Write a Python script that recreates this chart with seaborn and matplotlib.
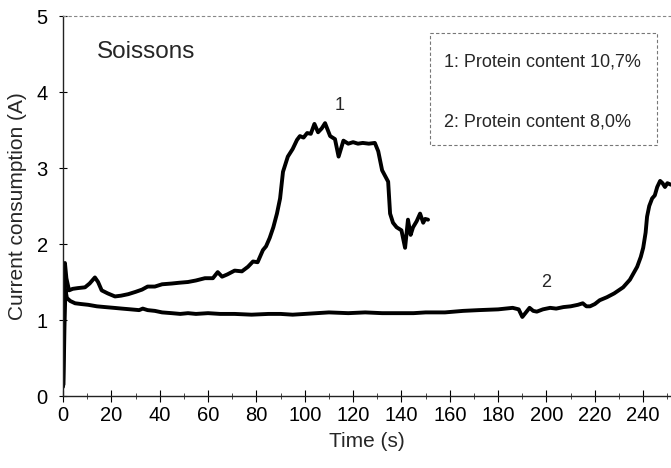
import numpy as np
import pandas as pd
import matplotlib
matplotlib.use("Agg")
import matplotlib.pyplot as plt
import seaborn as sns
from matplotlib.ticker import MultipleLocator

# ---- data ----
t1 = [0.0, 0.4, 0.8, 1.4, 2.5, 4.0, 6.2, 9.1, 11.0, 13.2, 14.5, 16.0, 18.5, 21.5, 24.0, 27.0,
      30.0, 32.7, 35.0, 38.0, 41.0, 45.0, 48.0, 51.7, 55.0, 58.7, 62.0, 64.0, 65.8, 68.0, 71.0,
      74.0, 76.5, 78.6, 80.5, 82.7, 84.0, 85.5, 87.0, 88.5, 89.8, 91.0, 93.0, 95.0, 96.8, 98.0,
      99.5, 101.0, 102.5, 104.0, 105.5, 107.0, 108.4, 110.5, 112.5, 114.0, 116.0, 118.0, 120.0,
      122.0, 124.0, 126.5, 129.0, 130.4, 132.0, 134.5, 135.3, 136.5, 138.0, 140.0, 141.5,
      142.7, 143.8, 144.8, 146.3, 147.7, 149.0, 149.8, 151.0]
y1 = [0.12, 1.10, 1.75, 1.55, 1.39, 1.41, 1.42, 1.43, 1.48, 1.56, 1.50, 1.39, 1.35, 1.31, 1.32, 1.34,
      1.37, 1.40, 1.44, 1.44, 1.47, 1.48, 1.49, 1.50, 1.52, 1.55, 1.55, 1.63, 1.57, 1.60, 1.65,
      1.64, 1.70, 1.77, 1.76, 1.92, 1.97, 2.08, 2.22, 2.40, 2.60, 2.95, 3.15, 3.25, 3.37, 3.42,
      3.40, 3.46, 3.45, 3.58, 3.47, 3.52, 3.59, 3.42, 3.38, 3.15, 3.36, 3.32, 3.34,
      3.32, 3.33, 3.32, 3.33, 3.22, 2.97, 2.82, 2.40, 2.28, 2.22, 2.18, 1.95,
      2.32, 2.12, 2.22, 2.30, 2.40, 2.28, 2.33, 2.32]

t2 = [0.2, 0.6, 1.0, 1.6, 3.0, 5.0, 7.5, 10.4, 14.0, 17.4, 21.0, 24.4, 28.0, 31.5, 33.0, 35.0,
      38.0, 41.0, 45.0, 48.5, 51.7, 55.0, 60.0, 65.0, 71.0, 78.0, 85.0, 90.0, 95.0, 100.0,
      105.0, 110.0, 118.0, 125.0, 132.0, 140.0, 145.0, 150.0, 158.0, 165.5, 172.0, 180.0,
      186.0, 188.5, 190.0, 191.5, 193.0, 194.5, 196.0, 198.5, 201.5, 204.0, 207.0, 210.0,
      213.0, 215.0, 216.5, 218.0, 220.0, 222.0, 225.0, 228.0, 231.7, 234.5, 237.5, 239.0,
      240.0, 241.0, 241.6, 242.5, 243.7, 244.8, 245.8, 247.0, 248.0, 249.0, 250.0, 251.5]
y2 = [0.15, 0.90, 1.40, 1.29, 1.25, 1.22, 1.21, 1.20, 1.18, 1.17, 1.16, 1.15, 1.14, 1.13, 1.15, 1.13,
      1.12, 1.10, 1.09, 1.08, 1.09, 1.08, 1.09, 1.08, 1.08, 1.07, 1.08, 1.08, 1.07, 1.08,
      1.09, 1.10, 1.09, 1.10, 1.09, 1.09, 1.09, 1.10, 1.10, 1.12, 1.13, 1.14,
      1.16, 1.14, 1.04, 1.10, 1.16, 1.12, 1.11, 1.14, 1.16, 1.15, 1.17, 1.18,
      1.20, 1.22, 1.18, 1.18, 1.21, 1.26, 1.30, 1.35, 1.43, 1.53, 1.70, 1.83,
      1.95, 2.15, 2.36, 2.50, 2.60, 2.64, 2.75, 2.83, 2.80, 2.75, 2.80, 2.78]

legend_lines = ["1: Protein content 10,7%", "2: Protein content 8,0%"]
title_text = "Soissons"
x_label = "Time (s)"
y_label = "Current consumption (A)"

df = pd.concat([
    pd.DataFrame({"t": t1, "I": y1, "s": "1"}),
    pd.DataFrame({"t": t2, "I": y2, "s": "2"}),
])

sns.set_theme(style="ticks")
plt.rcParams["font.family"] = ["Liberation Sans", "DejaVu Sans"]

fig = plt.figure(figsize=(6.71, 4.68), dpi=100)
ax = fig.add_axes([63 / 671, 72 / 468, 1 - 63 / 671, (396 - 16) / 468])

sns.lineplot(data=df, x="t", y="I", hue="s", palette=["black", "black"],
             linewidth=2.8, legend=False, ax=ax, sort=False, estimator=None)

ax.set_xlim(0, 251.5)
ax.set_ylim(0, 5)
ax.xaxis.set_major_locator(MultipleLocator(20))
ax.xaxis.set_minor_locator(MultipleLocator(10))
ax.yaxis.set_major_locator(MultipleLocator(1))
ax.tick_params(axis="x", which="major", direction="inout", length=8, width=0.8,
               labelsize=14.5, pad=3, colors="black")
ax.tick_params(axis="x", which="minor", direction="inout", length=4, width=0.6)
ax.tick_params(axis="y", which="major", direction="inout", length=6, width=0.8,
               labelsize=14.5, pad=8, colors="black")

for s in ["left", "bottom"]:
    ax.spines[s].set_color("#222222")
    ax.spines[s].set_linewidth(1.0)
ax.spines["right"].set_visible(False)
ax.spines["top"].set_visible(True)
ax.spines["top"].set_color("#888888")
ax.spines["top"].set_linewidth(0.8)
ax.spines["top"].set_linestyle((0, (2, 3)))

ax.set_xlabel(x_label, fontsize=15, labelpad=5)
ax.set_ylabel(y_label, fontsize=15, labelpad=7)

ax.text(14, 4.52, title_text, fontsize=17.5, va="center", ha="left")
ax.text(114.5, 3.82, "1", fontsize=13, ha="center", va="center")
ax.text(200, 1.49, "2", fontsize=13, ha="center", va="center")

# legend box
ax.plot([151.8, 245.8, 245.8, 151.8, 151.8], [4.78, 4.78, 3.30, 3.30, 4.78],
        color="#777777", lw=0.8, ls=(0, (3, 2)))
ax.text(157.5, 4.39, legend_lines[0], fontsize=13, va="center", ha="left")
ax.text(157.5, 3.60, legend_lines[1], fontsize=13, va="center", ha="left")

fig.savefig("out.png", dpi=100)
